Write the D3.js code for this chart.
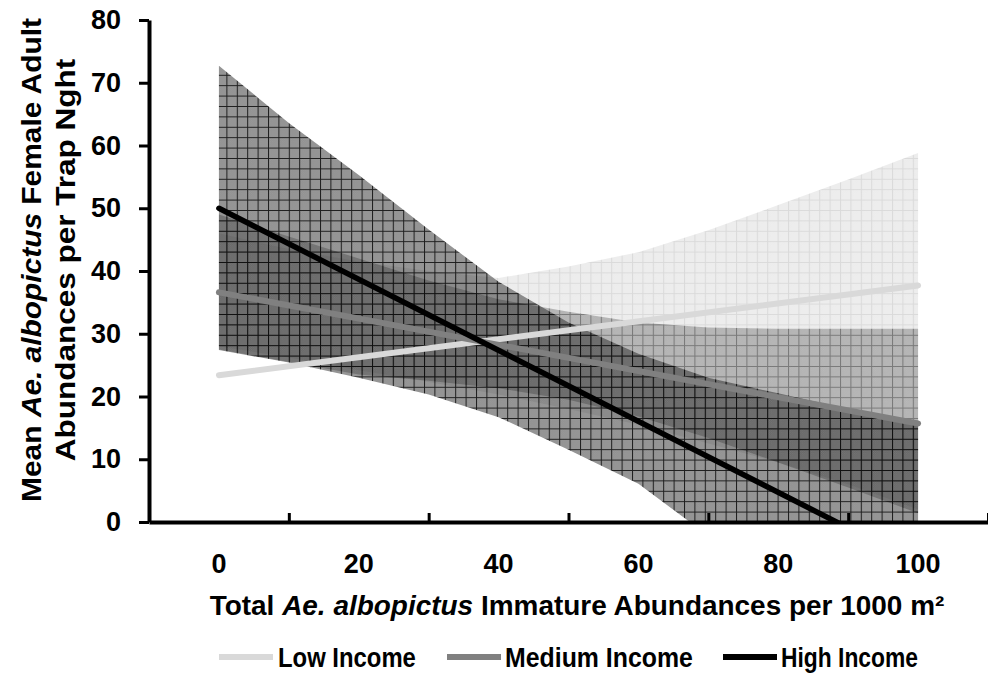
<!DOCTYPE html>
<html>
<head>
<meta charset="utf-8">
<script src="https://cdn.jsdelivr.net/npm/d3@7"></script>
<style>
  body { margin: 0; background: #fff; }
  svg text { font-family: "Liberation Sans", Arial, sans-serif; font-weight: bold; fill: #000; }
</style>
</head>
<body>
<div id="chart"></div>
<script>
// categories / ticks
const xCategories = [0, 20, 40, 60, 80, 100];
const yTicks = [0, 10, 20, 30, 40, 50, 60, 70, 80];

// confidence bands, read at every 10 units of immature abundance
const bandX = [0, 10, 20, 30, 40, 50, 60, 70, 80, 90, 100];
const lowUpper = [46, 43.5, 41.5, 40, 38.9, 40.7, 43, 46.5, 50.5, 54.6, 58.8];
const lowLower = [28, 26.2, 24.2, 22.3, 20.3, 18, 15.5, 12.5, 9.5, 6, 2];
const mediumUpper = [49, 45.5, 42, 38.5, 35.5, 33.5, 31.8, 31.0, 30.8, 30.8, 30.8];
const mediumLower = [27.5, 25.5, 23.5, 22.5, 21.3, 19.5, 16.8, 13.4, 9.5, 5.5, 1.4];
const highUpper = [72.7, 63.6, 55.3, 46.6, 38.3, 31.8, 26.8, 23.0, 20.5, 18.0, 15.5];
const highLower = [27.4, 25.4, 23.0, 20.3, 16.7, 11.5, 6.1, -2.2, -11, -19.8, -28.7];

// fitted lines (straight), ends at 0 and 100
const lineX = [0, 100];
const lowFit = [23.4, 37.7];
const mediumFit = [36.6, 15.7];
const highFit = [50.0, -6.6];

const seriesNames = ['Low Income', 'Medium Income', 'High Income'];

const width = 988;
const height = 677;
const plotLeft = 149;
const plotRight = 988;
const plotTop = 20;
const plotBottom = 522;

const svg = d3.select('#chart')
  .append('svg')
  .attr('width', width)
  .attr('height', height);

const xBand = d3.scaleBand().domain(xCategories).range([plotLeft, plotRight]);
const half = xBand.bandwidth() / 2;
const x = d3.scaleLinear()
  .domain([0, 100])
  .range([xBand(0) + half, xBand(100) + half]);
const y = d3.scaleLinear().domain([0, 80]).range([plotBottom, plotTop]);

// DEFS: clip + hatch patterns
const defs = svg.append('defs');
defs.append('clipPath').attr('id', 'plot-clip')
  .append('rect')
  .attr('x', plotLeft)
  .attr('y', plotTop)
  .attr('width', plotRight - plotLeft)
  .attr('height', plotBottom - plotTop);

const dither = defs.append('pattern')
  .attr('id', 'dither')
  .attr('patternUnits', 'userSpaceOnUse')
  .attr('width', 2)
  .attr('height', 2);
dither.append('rect').attr('width', 1).attr('height', 1).attr('fill', 'rgba(255,255,255,0.10)');
dither.append('rect').attr('x', 1).attr('y', 1).attr('width', 1).attr('height', 1).attr('fill', 'rgba(255,255,255,0.10)');

const cell = 10.4;
function gridPattern(id, fill, stroke) {
  const p = defs.append('pattern')
    .attr('id', id)
    .attr('patternUnits', 'userSpaceOnUse')
    .attr('x', 8)
    .attr('y', 2)
    .attr('width', cell)
    .attr('height', cell);
  p.append('rect').attr('width', cell).attr('height', cell).attr('fill', fill);
  p.append('rect').attr('width', cell).attr('height', cell).attr('fill', 'url(#dither)');
  p.append('path')
    .attr('d', `M0,0.5H${cell}M0.5,0V${cell}`)
    .attr('stroke', stroke)
    .attr('stroke-width', 1)
    .attr('fill', 'none');
}
gridPattern('hatch-low', 'rgba(0,0,0,0.075)', 'rgba(0,0,0,0.08)');
gridPattern('hatch-medium', 'rgba(0,0,0,0.25)', 'rgba(0,0,0,0.28)');
gridPattern('hatch-high', 'rgba(0,0,0,0.44)', 'rgba(0,0,0,0.8)');

const plot = svg.append('g').attr('clip-path', 'url(#plot-clip)');

// BANDS
const bands = [
  { upper: lowUpper, lower: lowLower, fill: 'url(#hatch-low)' },
  { upper: mediumUpper, lower: mediumLower, fill: 'url(#hatch-medium)' },
  { upper: highUpper, lower: highLower, fill: 'url(#hatch-high)' }
];

const area = d3.area()
  .x(d => x(d.x))
  .y0(d => y(d.lo))
  .y1(d => y(d.hi));

plot.selectAll('.band')
  .data(bands)
  .enter()
  .append('path')
  .attr('class', 'band')
  .attr('d', b => area(bandX.map((v, i) => ({ x: v, lo: b.lower[i], hi: b.upper[i] }))))
  .attr('fill', b => b.fill);

// LINES
const fits = [
  { values: lowFit, color: '#d9d9d9', width: 6 },
  { values: mediumFit, color: '#808080', width: 6 },
  { values: highFit, color: '#000000', width: 5.5 }
];

const line = d3.line().x(d => x(d.x)).y(d => y(d.v));

plot.selectAll('.fit')
  .data(fits)
  .enter()
  .append('path')
  .attr('class', 'fit')
  .attr('d', f => line(lineX.map((v, i) => ({ x: v, v: f.values[i] }))))
  .attr('fill', 'none')
  .attr('stroke', f => f.color)
  .attr('stroke-width', f => f.width)
  .attr('stroke-linecap', 'round');

// AXES
const yAxis = d3.axisLeft(y)
  .tickValues(yTicks)
  .tickSizeInner(10)
  .tickSizeOuter(0)
  .tickPadding(18);

svg.append('g')
  .attr('transform', `translate(${plotLeft}, 0)`)
  .call(yAxis)
  .attr('font-size', 27)
  .call(g => g.select('.domain').attr('stroke-width', 4))
  .call(g => g.selectAll('.tick line').attr('stroke-width', 3));

// tick marks between categories, pointing up into the plot
const xMarks = d3.axisBottom(x)
  .tickValues([-10, 10, 30, 50, 70, 90, 110])
  .tickSizeInner(-9)
  .tickSizeOuter(0)
  .tickFormat('');

svg.append('g')
  .attr('transform', `translate(0, ${plotBottom})`)
  .call(xMarks)
  .call(g => g.select('.domain').remove())
  .call(g => g.selectAll('.tick line').attr('stroke-width', 3));

const xAxis = d3.axisBottom(xBand).tickSize(0).tickPadding(32);

svg.append('g')
  .attr('transform', `translate(0, ${plotBottom})`)
  .call(xAxis)
  .attr('font-size', 27)
  .call(g => g.select('.domain').attr('stroke-width', 4));

// TITLES (stretched horizontally to the width of the original lettering)
function fitText(text, target) {
  const w = text.node().getComputedTextLength();
  text.attr('transform', `scale(${target / w}, 1)`);
}

const xTitle = svg.append('g')
  .attr('transform', 'translate(577, 615)')
  .append('text')
  .attr('text-anchor', 'middle')
  .attr('font-size', 28);
xTitle.append('tspan').text('Total ');
xTitle.append('tspan').attr('font-style', 'italic').text('Ae. albopictus');
xTitle.append('tspan').text(' Immature Abundances per 1000 m²');
fitText(xTitle, 735);

const yTitleLines = [
  { x: 41, parts: [['Mean ', false], ['Ae. albopictus', true], [' Female Adult', false]], len: 484 },
  { x: 75, parts: [['Abundances per Trap Nght', false]], len: 403 }
];

yTitleLines.forEach(l => {
  const t = svg.append('g')
    .attr('transform', `translate(${l.x}, 260) rotate(-90)`)
    .append('text')
    .attr('text-anchor', 'middle')
    .attr('font-size', 28);
  l.parts.forEach(p => {
    t.append('tspan').attr('font-style', p[1] ? 'italic' : null).text(p[0]);
  });
  fitText(t, l.len);
});

// LEGEND
const legendItems = [
  { name: seriesNames[0], color: '#d9d9d9', x0: 219, x1: 273, tx: 278, len: 138 },
  { name: seriesNames[1], color: '#808080', x0: 447, x1: 501, tx: 505, len: 188 },
  { name: seriesNames[2], color: '#000000', x0: 723, x1: 777, tx: 781, len: 137 }
];

const legend = svg.append('g');
legendItems.forEach(d => {
  legend.append('line')
    .attr('x1', d.x0)
    .attr('x2', d.x1)
    .attr('y1', 657)
    .attr('y2', 657)
    .attr('stroke', d.color)
    .attr('stroke-width', 6);
  const t = legend.append('g')
    .attr('transform', `translate(${d.tx}, 667)`)
    .append('text')
    .attr('font-size', 27)
    .text(d.name);
  fitText(t, d.len);
});
</script>
</body>
</html>
